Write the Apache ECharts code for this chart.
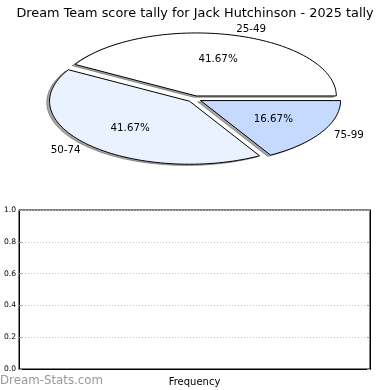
<!DOCTYPE html>
<html>
<head>
<meta charset="utf-8">
<script src="https://cdn.jsdelivr.net/npm/echarts@6/dist/echarts.min.js"></script>
<style>
html,body{margin:0;padding:0;background:#fff;}
#c{width:390px;height:390px;}
</style>
</head>
<body>
<div id="c"></div>
<script>
// ---- data ----
var titleText = 'Dream Team score tally for Jack Hutchinson - 2025 tally';
var categories = ['25-49', '50-74', '75-99'];
var counts = [5, 5, 2];
var sliceColors = ['#ffffff', '#eaf1ff', '#c6d9ff'];
var yTicks = [0, 0.2, 0.4, 0.6, 0.8, 1.0];
var xAxisName = 'Frequency';
var watermark = 'Dream-Stats.com';

// ---- layout/style ----
var PIE = { cx: 194.5, cy: 99, rx: 140, ry: 63, explode: 0.05 };
var FONT = 'DejaVu Sans';
var total = counts.reduce(function (a, b) { return a + b; }, 0);

function sliceGeom(i) {
  var before = 0;
  for (var k = 0; k < i; k++) before += counts[k];
  var a0 = before / total * 360;
  var a1 = (before + counts[i]) / total * 360;
  var mid = (a0 + a1) / 2 * Math.PI / 180;
  var ox = PIE.rx * PIE.explode * Math.cos(mid);
  var oy = -PIE.ry * PIE.explode * Math.sin(mid);
  var pts = [[PIE.cx + ox, PIE.cy + oy]];
  var steps = Math.max(8, Math.ceil((a1 - a0) / 2));
  for (var s = 0; s <= steps; s++) {
    var t = (a0 + (a1 - a0) * s / steps) * Math.PI / 180;
    pts.push([PIE.cx + ox + PIE.rx * Math.cos(t), PIE.cy + oy - PIE.ry * Math.sin(t)]);
  }
  return { pts: pts, mid: mid, ox: ox, oy: oy };
}

function renderShadow(params, api) {
  var i = params.dataIndex;
  var g = sliceGeom(i);
  return {
    type: 'polygon',
    x: -PIE.rx * 0.02, y: PIE.ry * 0.02,
    shape: { points: g.pts },
    style: { fill: 'rgba(77,77,77,0.5)', stroke: 'rgba(77,77,77,0.5)', lineWidth: 1 }
  };
}

function renderSlice(params, api) {
  var i = params.dataIndex;
  var g = sliceGeom(i);
  var c = Math.cos(g.mid), s = Math.sin(g.mid);
  var lx = PIE.cx + g.ox + 1.1 * PIE.rx * c;
  var ly = PIE.cy + g.oy - 1.1 * PIE.ry * s;
  var px = PIE.cx + g.ox + 0.6 * PIE.rx * c;
  var py = PIE.cy + g.oy - 0.6 * PIE.ry * s;
  var pct = (api.value(0) / total * 100).toFixed(2) + '%';
  return {
    type: 'group',
    children: [
      {
        type: 'polygon',
        shape: { points: g.pts },
        style: { fill: sliceColors[i], stroke: '#000', lineWidth: 1, lineJoin: 'miter' }
      },
      {
        type: 'text',
        style: { text: categories[i], x: lx, y: ly, align: c > 0 ? 'left' : 'right',
                 verticalAlign: 'middle', fontFamily: FONT, fontSize: 10.3, fill: '#000' }
      },
      {
        type: 'text',
        style: { text: pct, x: px, y: py, align: 'center',
                 verticalAlign: 'middle', fontFamily: FONT, fontSize: 10.3, fill: '#000' }
      }
    ]
  };
}

var chart = echarts.init(document.getElementById('c'), null, { renderer: 'canvas' });
chart.setOption({
  animation: false,
  backgroundColor: '#fff',
  textStyle: { fontFamily: FONT },
  title: {
    text: titleText, left: 'center', top: 2,
    textStyle: { fontFamily: FONT, fontSize: 12.85, fontWeight: 'normal', color: '#000' }
  },
  graphic: [{
    type: 'text', left: 0, top: 375,
    style: { text: watermark, fontFamily: FONT, fontSize: 11.8, fill: '#999' }
  }],
  grid: { left: 19, right: 20, top: 210, bottom: 21, show: true, borderColor: '#000', borderWidth: 1 },
  xAxis: {
    type: 'value', min: 0, max: 1,
    name: xAxisName, nameLocation: 'middle', nameGap: 8,
    nameTextStyle: { fontFamily: FONT, fontSize: 10, color: '#000' },
    axisLine: { show: true, lineStyle: { color: '#000', width: 1 } },
    axisTick: { show: false }, axisLabel: { show: false }, splitLine: { show: false }
  },
  yAxis: [{
    type: 'value', min: yTicks[0], max: yTicks[yTicks.length - 1], interval: 0.2,
    axisLine: { show: true, lineStyle: { color: '#000', width: 1 } },
    axisTick: { show: true, inside: true, length: 3, lineStyle: { color: '#999' } },
    axisLabel: { fontFamily: FONT, fontSize: 7.6, color: '#000', margin: 3,
                 formatter: function (v) { return v.toFixed(1); } },
    splitLine: { show: true, lineStyle: { color: '#c8c8c8', type: [1, 2], width: 1 } }
  }, {
    type: 'value', min: yTicks[0], max: yTicks[yTicks.length - 1], interval: 0.2, position: 'right',
    axisLine: { show: true, lineStyle: { color: '#000', width: 1 } },
    axisTick: { show: true, inside: true, length: 3, lineStyle: { color: '#999' } },
    axisLabel: { show: false }, splitLine: { show: false }
  }],
  series: [
    { type: 'custom', coordinateSystem: 'none', z: 1, silent: true,
      data: counts.map(function (v) { return [v]; }), renderItem: renderShadow },
    { type: 'custom', coordinateSystem: 'none', z: 2, silent: true,
      data: counts.map(function (v) { return [v]; }), renderItem: renderSlice },
    { type: 'bar', data: [], xAxisIndex: 0, yAxisIndex: 0 }
  ]
});
</script>
</body>
</html>
